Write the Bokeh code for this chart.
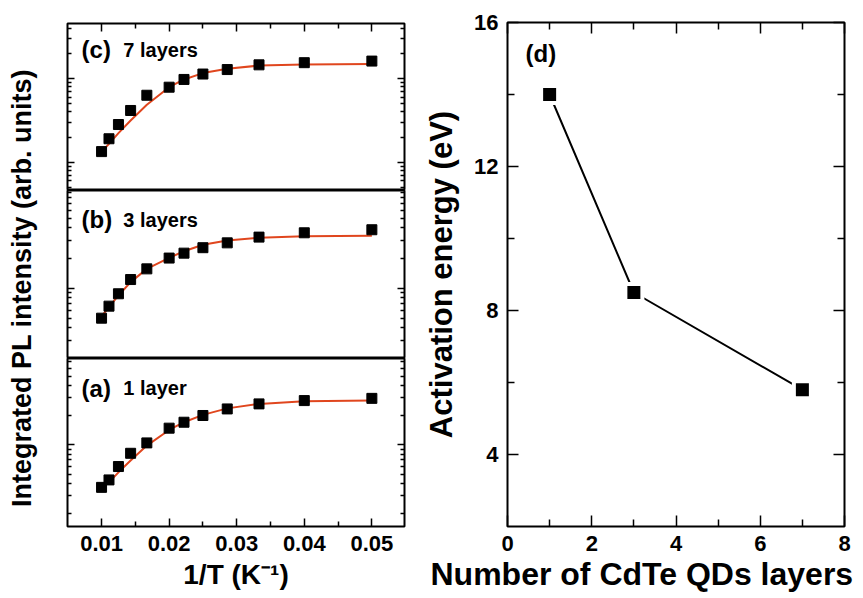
import math
from bokeh.plotting import figure
from bokeh.layouts import row, column
from bokeh.models import (Range1d, FixedTicker, LinearAxis, LogAxis, Label, Title,
                          CustomJSTickFormatter)
from bokeh.embed import file_html
from bokeh.resources import INLINE

# ---------------- data ----------------
inv_T = [0.0100, 0.0111, 0.0125, 0.0143, 0.0167, 0.0200, 0.0222, 0.0250, 0.0286, 0.0333, 0.0400, 0.0500]

# (a) 1 layer
pl_1 = [0.366, 0.436, 0.597, 0.815, 1.04, 1.47, 1.69, 1.98, 2.31, 2.60, 2.81, 2.96]
fit_1 = [0.361, 0.412, 0.521, 0.687, 0.977, 1.41, 1.69, 2.01, 2.34, 2.60, 2.77, 2.81]
# (b) 3 layers
pl_3 = [0.501, 0.661, 0.879, 1.22, 1.56, 2.00, 2.24, 2.54, 2.84, 3.24, 3.58, 3.84]
fit_3 = [0.521, 0.646, 0.845, 1.15, 1.56, 2.01, 2.34, 2.72, 3.00, 3.19, 3.31, 3.34]
# (c) 7 layers
pl_7 = [1.34, 1.91, 2.83, 4.17, 6.35, 7.93, 9.82, 11.4, 12.9, 14.7, 15.6, 16.3]
fit_7 = [1.33, 1.66, 2.23, 3.16, 4.88, 7.93, 9.82, 11.7, 13.2, 14.4, 14.8, 15.0]

# (d)
n_layers = [1, 3, 7]
act_energy = [14.0, 8.5, 5.8]

x_ticks = [0.01, 0.02, 0.03, 0.04, 0.05]
x_minor = [0.015, 0.025, 0.035, 0.045]
d_x_ticks = [0, 2, 4, 6, 8]
d_x_minor = [1, 3, 5, 7]
d_y_ticks = [4, 8, 12, 16]
d_y_minor = [6, 10, 14]

FONT = "Liberation Sans"
RED = "#E0461E"

def log_minor(lo_exp, hi_exp):
    out = []
    for e in range(lo_exp, hi_exp + 1):
        for m in range(2, 10):
            out.append(m * 10.0 ** e)
    return out

def style_hidden_axis(ax, tin=7, min_in=4):
    ax.formatter = CustomJSTickFormatter(code="return ''")
    ax.major_label_text_font_size = "8px"
    ax.major_label_text_color = None
    ax.major_label_standoff = 0
    ax.axis_line_color = None
    ax.major_tick_out = 0
    ax.minor_tick_out = 0
    ax.major_tick_in = tin
    ax.minor_tick_in = min_in
    ax.major_tick_line_width = 1.5
    ax.minor_tick_line_width = 1.5

def style_visible_axis(ax, tin, min_in):
    ax.axis_line_color = None
    ax.major_tick_out = 0
    ax.minor_tick_out = 0
    ax.major_tick_in = tin
    ax.minor_tick_in = min_in
    ax.major_tick_line_width = 1.5
    ax.minor_tick_line_width = 1.5
    ax.major_label_text_font_size = "22px"
    ax.major_label_text_font_style = "bold"
    ax.major_label_text_font = FONT
    ax.major_label_text_color = "black"
    ax.major_label_standoff = 9
    ax.axis_label_text_font_style = "bold"
    ax.axis_label_text_font = FONT
    ax.axis_label_text_color = "black"

def panel(ylo, yhi, majors, minors, xs, ys, fit, lab, sub, lab_y, top=False, bottom=False):
    fig = figure(frame_width=337, frame_height=167 if top else 168,
                 x_range=Range1d(0.00496, 0.05483), y_range=Range1d(ylo, yhi),
                 y_axis_type="log", x_axis_location=None, y_axis_location=None,
                 output_backend="svg", toolbar_location=None,
                 min_border_left=27, min_border_right=8,
                 min_border_top=23 if top else 0, min_border_bottom=72 if bottom else 0)
    fig.grid.visible = False
    fig.outline_line_color = "black"
    fig.outline_line_width = 2
    yt = FixedTicker(ticks=majors, minor_ticks=minors)
    for loc in ("left", "right"):
        ax = LogAxis(ticker=yt)
        style_hidden_axis(ax)
        fig.add_layout(ax, loc)
    xt = FixedTicker(ticks=x_ticks, minor_ticks=x_minor)
    if top:
        ax = LinearAxis(ticker=xt)
        style_hidden_axis(ax, 8, 5)
        fig.add_layout(ax, "above")
    if bottom:
        ax = LinearAxis(ticker=xt)
        style_visible_axis(ax, 8, 5)
        ax.axis_label = "1/T (K\u207b\u00b9)"
        ax.axis_label_text_font_size = "28px"
        ax.axis_label_standoff = 5
        fig.add_layout(ax, "below")
    fig.line(xs, fit, line_color=RED, line_width=2)
    fig.scatter(xs, ys, marker="square", size=10, fill_color="black", line_color="black")
    fig.add_layout(Label(x=0.00704, y=lab_y, text=lab, text_font=FONT, text_color="black",
                         text_font_size="24px", text_font_style="bold",
                         text_baseline="middle"))
    fig.add_layout(Label(x=0.01322, y=lab_y, text=sub, text_font=FONT, text_color="black",
                         text_font_size="20px", text_font_style="bold",
                         text_baseline="middle"))
    return fig

pc = panel(0.458, 46.0, [1, 10], log_minor(-1, 1), inv_T, pl_7, fit_7, "(c)", "7 layers", 22.4, top=True)
pb = panel(0.198, 9.48, [1, 10], log_minor(-1, 0), inv_T, pl_3, fit_3, "(b)", "3 layers", 4.86)
pa = panel(0.146, 7.55, [1, 10], log_minor(-1, 0), inv_T, pl_1, fit_1, "(a)", "1 layer", 3.77, bottom=True)

# y-axis label spanning the three panels
lab_fig = figure(width=40, height=598, x_range=Range1d(0, 40), y_range=Range1d(0, 598),
                 output_backend="svg", toolbar_location=None,
                 x_axis_location=None, y_axis_location=None, min_border=0)
lab_fig.grid.visible = False
lab_fig.outline_line_color = None
lab_fig.add_layout(Label(x=21, y=283, text="Integrated PL intensity (arb. units)",
                         angle=math.pi / 2, text_align="center", text_baseline="middle",
                         text_color="black",
                         text_font=FONT, text_font_size="27px", text_font_style="bold"))

# ---------------- panel (d) ----------------
pd = figure(frame_width=337, frame_height=504, x_range=Range1d(0, 8), y_range=Range1d(2, 16),
            x_axis_location=None, y_axis_location=None,
            output_backend="svg", toolbar_location=None,
            min_border_left=95, min_border_right=19, min_border_top=22, min_border_bottom=72)
pd.grid.visible = False
pd.outline_line_color = "black"
pd.outline_line_width = 2

dxt = FixedTicker(ticks=d_x_ticks, minor_ticks=d_x_minor)
dyt = FixedTicker(ticks=d_y_ticks, minor_ticks=d_y_minor)

axb = LinearAxis(ticker=dxt)
style_visible_axis(axb, 11, 7)
pd.add_layout(axb, "below")
# x-axis title of panel (d), shifted left like the original
pd.add_layout(Title(text="Number of CdTe QDs layers", align="left", offset=-77,
                    text_font=FONT, text_font_size="32px", text_font_style="bold",
                    text_color="black", standoff=0), "below")

axl = LinearAxis(ticker=dyt)
style_visible_axis(axl, 11, 7)
axl.axis_label = "Activation energy (eV)"
axl.axis_label_text_font_size = "31px"
axl.axis_label_standoff = 12
pd.add_layout(axl, "left")

axt = LinearAxis(ticker=dxt)
style_hidden_axis(axt, 11, 7)
pd.add_layout(axt, "above")
axr = LinearAxis(ticker=dyt)
style_hidden_axis(axr, 11, 7)
pd.add_layout(axr, "right")

pd.line(n_layers, act_energy, line_color="black", line_width=2)
pd.scatter(n_layers, act_energy, marker="square", size=17, fill_color="black",
           line_color="white", line_width=4)
pd.add_layout(Label(x=0.43, y=15.14, text="(d)", text_font=FONT, text_color="black",
                    text_font_size="24px", text_font_style="bold", text_baseline="middle"))

layout = row(lab_fig, column(pc, pb, pa), pd)
open("out.html", "w").write(file_html(layout, INLINE))
